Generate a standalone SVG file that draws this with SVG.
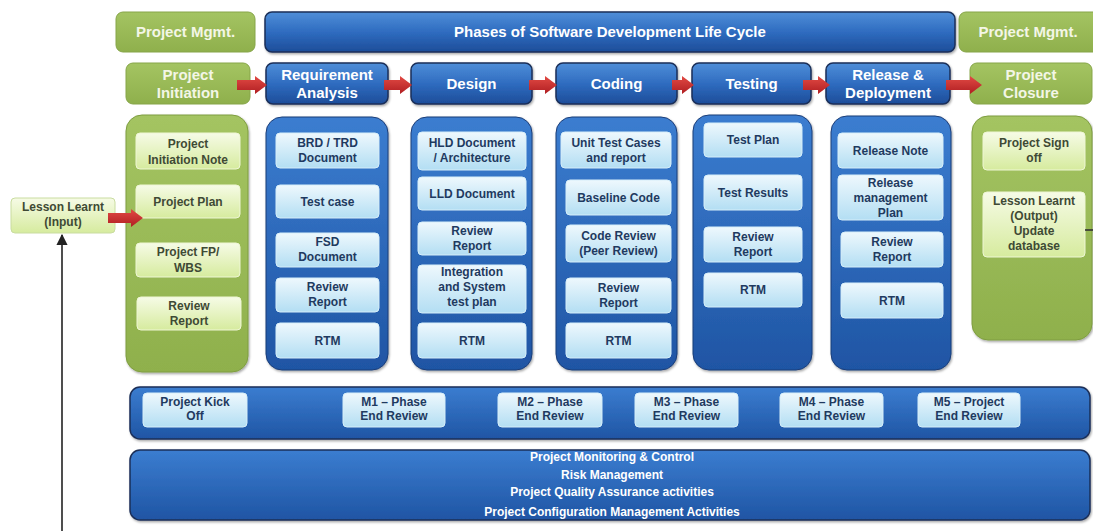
<svg xmlns="http://www.w3.org/2000/svg" width="1093" height="531" viewBox="0 0 1093 531">
<defs>
<linearGradient id="gBlue" x1="0" y1="0" x2="0" y2="1"><stop offset="0" stop-color="#4f8ed8"/><stop offset="0.5" stop-color="#2f6cc0"/><stop offset="1" stop-color="#1d4d99"/></linearGradient>
<linearGradient id="gCol" x1="0" y1="0" x2="0" y2="1"><stop offset="0" stop-color="#3b7dd0"/><stop offset="1" stop-color="#1f55a4"/></linearGradient>
<linearGradient id="gItem" x1="0" y1="0" x2="0" y2="1"><stop offset="0" stop-color="#eef8fd"/><stop offset="1" stop-color="#b3def3"/></linearGradient>
<linearGradient id="gGreen" x1="0" y1="0" x2="0" y2="1"><stop offset="0" stop-color="#a4c462"/><stop offset="1" stop-color="#8fb04c"/></linearGradient>
<linearGradient id="gGItem" x1="0" y1="0" x2="0" y2="1"><stop offset="0" stop-color="#f6fbe6"/><stop offset="1" stop-color="#d6eb9e"/></linearGradient>
<linearGradient id="gRed" x1="0" y1="0" x2="0" y2="1"><stop offset="0" stop-color="#e24a44"/><stop offset="1" stop-color="#b01e22"/></linearGradient>
<filter id="sh" x="-10%" y="-10%" width="120%" height="130%"><feDropShadow dx="1" dy="1.5" stdDeviation="1" flood-color="#000" flood-opacity="0.35"/></filter>
<marker id="ah" viewBox="0 0 10 10" refX="9" refY="5" markerWidth="7" markerHeight="7" orient="auto"><path d="M0,0 L10,5 L0,10 Z" fill="#222"/></marker>
</defs>
<style>
text{font-family:"Liberation Sans",Arial,sans-serif;font-weight:bold;text-anchor:middle}
.hb{fill:url(#gBlue);stroke:#1a2f58;stroke-width:1.5;filter:url(#sh)}
.hg{fill:url(#gGreen);stroke:#86a548;stroke-width:1}
.col{fill:url(#gCol);stroke:#1d3e78;stroke-width:1;filter:url(#sh)}
.colg{fill:url(#gGreen);stroke:#7e9d40;stroke-width:1;filter:url(#sh)}
.it{fill:url(#gItem);stroke:#d6eef9;stroke-width:1}
.ig{fill:url(#gGItem);stroke:#eef6d4;stroke-width:1}
.bar{fill:url(#gCol);stroke:#1a2f58;stroke-width:1.5;filter:url(#sh)}
.th{font-size:15px;fill:#ffffff}
.tg{font-size:15px;fill:#f3f6e6}
.ti{font-size:12px;fill:#1f3a60}
.tgi{font-size:12px;fill:#3f4a35}
.tb{font-size:12px;fill:#ffffff}
.ra{fill:url(#gRed)}
</style>

<g id="pm-left"><rect class="hg" x="116" y="12" width="139" height="40" rx="7"/><text class="tg" x="185.5" y="37">Project Mgmt.</text></g>
<g id="phases"><rect class="hb" x="265" y="12" width="690" height="40" rx="7"/><text class="th" x="610" y="37">Phases of Software Development Life Cycle</text></g>
<g id="pm-right"><rect class="hg" x="959" y="12" width="142" height="40" rx="7"/><text class="tg" x="1028" y="37">Project Mgmt.</text></g>

<g id="h-init"><rect class="hg" x="126" y="63" width="124" height="41" rx="7"/><text class="tg" x="188" y="80">Project</text><text class="tg" x="188" y="98">Initiation</text></g>
<g id="h-req"><rect class="hb" x="266" y="63" width="122" height="41" rx="7"/><text class="th" x="327" y="80">Requirement</text><text class="th" x="327" y="98">Analysis</text></g>
<g id="h-design"><rect class="hb" x="411" y="63" width="121" height="41" rx="7"/><text class="th" x="471.5" y="89">Design</text></g>
<g id="h-coding"><rect class="hb" x="556" y="63" width="121" height="41" rx="7"/><text class="th" x="616.5" y="89">Coding</text></g>
<g id="h-testing"><rect class="hb" x="692" y="63" width="119" height="41" rx="7"/><text class="th" x="751.5" y="89">Testing</text></g>
<g id="h-release"><rect class="hb" x="826" y="63" width="124" height="41" rx="7"/><text class="th" x="888" y="80">Release &amp;</text><text class="th" x="888" y="98">Deployment</text></g>
<g id="h-closure"><rect class="hg" x="970" y="63" width="122" height="41" rx="7"/><text class="tg" x="1031" y="80">Project</text><text class="tg" x="1031" y="98">Closure</text></g>

<g id="c-init">
<rect class="colg" x="126" y="115" width="122" height="257" rx="16"/>
<rect class="ig" x="136" y="133" width="104" height="36" rx="4"/><text class="tgi" x="188" y="148">Project</text><text class="tgi" x="188" y="164">Initiation Note</text>
<rect class="ig" x="136" y="185" width="104" height="33" rx="4"/><text class="tgi" x="188" y="205.5">Project Plan</text>
<rect class="ig" x="136" y="243" width="104" height="34" rx="4"/><text class="tgi" x="188" y="256">Project  FP/</text><text class="tgi" x="188" y="272">WBS</text>
<rect class="ig" x="137" y="297" width="104" height="33" rx="4"/><text class="tgi" x="189" y="310">Review</text><text class="tgi" x="189" y="325">Report</text>
</g>
<g id="c-req">
<rect class="col" x="266" y="117" width="122" height="253" rx="16"/>
<rect class="it" x="276" y="133" width="103" height="35" rx="4"/><text class="ti" x="327.5" y="147">BRD  /  TRD</text><text class="ti" x="327.5" y="162">Document</text>
<rect class="it" x="276" y="185" width="103" height="33" rx="4"/><text class="ti" x="327.5" y="205.5">Test case</text>
<rect class="it" x="276" y="233" width="103" height="34" rx="4"/><text class="ti" x="327.5" y="246">FSD</text><text class="ti" x="327.5" y="261">Document</text>
<rect class="it" x="276" y="278" width="103" height="34" rx="4"/><text class="ti" x="327.5" y="291">Review</text><text class="ti" x="327.5" y="306">Report</text>
<rect class="it" x="276" y="323" width="103" height="35" rx="4"/><text class="ti" x="327.5" y="344.5">RTM</text>
</g>
<g id="c-design">
<rect class="col" x="411" y="117" width="121" height="253" rx="16"/>
<rect class="it" x="418" y="132" width="108" height="38" rx="4"/><text class="ti" x="472" y="147">HLD Document</text><text class="ti" x="472" y="162">/ Architecture</text>
<rect class="it" x="418" y="177" width="108" height="33" rx="4"/><text class="ti" x="472" y="197.5">LLD Document</text>
<rect class="it" x="418" y="222" width="108" height="33" rx="4"/><text class="ti" x="472" y="234.5">Review</text><text class="ti" x="472" y="249.5">Report</text>
<rect class="it" x="418" y="265" width="108" height="48" rx="4"/><text class="ti" x="472" y="276">Integration</text><text class="ti" x="472" y="291">and System</text><text class="ti" x="472" y="306">test plan</text>
<rect class="it" x="418" y="323" width="108" height="35" rx="4"/><text class="ti" x="472" y="344.5">RTM</text>
</g>
<g id="c-coding">
<rect class="col" x="556" y="117" width="121" height="253" rx="16"/>
<rect class="it" x="561" y="132" width="110" height="36" rx="4"/><text class="ti" x="616" y="146.5">Unit Test Cases</text><text class="ti" x="616" y="161.5">and report</text>
<rect class="it" x="566" y="180" width="105" height="35" rx="4"/><text class="ti" x="618.5" y="201.5">Baseline Code</text>
<rect class="it" x="566" y="225" width="105" height="37" rx="4"/><text class="ti" x="618.5" y="240">Code Review</text><text class="ti" x="618.5" y="255">(Peer Review)</text>
<rect class="it" x="566" y="278" width="105" height="35" rx="4"/><text class="ti" x="618.5" y="291.5">Review</text><text class="ti" x="618.5" y="306.5">Report</text>
<rect class="it" x="566" y="323" width="105" height="35" rx="4"/><text class="ti" x="618.5" y="344.5">RTM</text>
</g>
<g id="c-testing">
<rect class="col" x="693" y="115" width="119" height="255" rx="16"/>
<rect class="it" x="704" y="123" width="98" height="34" rx="4"/><text class="ti" x="753" y="144">Test Plan</text>
<rect class="it" x="704" y="175" width="98" height="35" rx="4"/><text class="ti" x="753" y="196.5">Test  Results</text>
<rect class="it" x="704" y="227" width="98" height="35" rx="4"/><text class="ti" x="753" y="241">Review</text><text class="ti" x="753" y="256">Report</text>
<rect class="it" x="704" y="273" width="98" height="34" rx="4"/><text class="ti" x="753" y="294">RTM</text>
</g>
<g id="c-release">
<rect class="col" x="831" y="116" width="120" height="254" rx="16"/>
<rect class="it" x="838" y="133" width="105" height="35" rx="4"/><text class="ti" x="890.5" y="154.5">Release Note</text>
<rect class="it" x="838" y="175" width="105" height="45" rx="4"/><text class="ti" x="890.5" y="186.5">Release</text><text class="ti" x="890.5" y="201.5">management</text><text class="ti" x="890.5" y="216.5">Plan</text>
<rect class="it" x="841" y="232" width="102" height="35" rx="4"/><text class="ti" x="892" y="246">Review</text><text class="ti" x="892" y="261">Report</text>
<rect class="it" x="841" y="283" width="102" height="35" rx="4"/><text class="ti" x="892" y="304.5">RTM</text>
</g>
<g id="c-closure">
<rect class="colg" x="972" y="116" width="120" height="224" rx="16"/>
<rect class="ig" x="983" y="132" width="102" height="38" rx="4"/><text class="tgi" x="1034" y="147">Project Sign</text><text class="tgi" x="1034" y="162">off</text>
<rect class="ig" x="983" y="192" width="102" height="65" rx="4"/><text class="tgi" x="1034" y="205">Lesson Learnt</text><text class="tgi" x="1034" y="220">(Output)</text><text class="tgi" x="1034" y="235">Update</text><text class="tgi" x="1034" y="250">database</text>
</g>

<g id="lesson-input"><rect class="ig" x="11" y="198" width="104" height="35" rx="4" style="stroke:#c9dca0"/><text class="tgi" x="63" y="211">Lesson Learnt</text><text class="tgi" x="63" y="226">(Input)</text></g>

<g id="milestones">
<rect class="bar" x="130" y="387" width="960" height="52" rx="10"/>
<rect class="it" x="143" y="393" width="104" height="34" rx="4"/><text class="ti" x="195" y="406">Project Kick</text><text class="ti" x="195" y="420">Off</text>
<rect class="it" x="343" y="393" width="102" height="34" rx="4"/><text class="ti" x="394" y="406">M1 – Phase</text><text class="ti" x="394" y="420">End Review</text>
<rect class="it" x="498" y="393" width="104" height="34" rx="4"/><text class="ti" x="550" y="406">M2 – Phase</text><text class="ti" x="550" y="420">End Review</text>
<rect class="it" x="635" y="393" width="103" height="34" rx="4"/><text class="ti" x="686.5" y="406">M3 – Phase</text><text class="ti" x="686.5" y="420">End Review</text>
<rect class="it" x="780" y="393" width="103" height="34" rx="4"/><text class="ti" x="831.5" y="406">M4 – Phase</text><text class="ti" x="831.5" y="420">End Review</text>
<rect class="it" x="918" y="393" width="102" height="34" rx="4"/><text class="ti" x="969" y="406">M5 – Project</text><text class="ti" x="969" y="420">End Review</text>
</g>

<g id="management">
<rect class="bar" x="130" y="450" width="960" height="70" rx="10"/>
<text class="tb" x="612" y="461">Project Monitoring &amp; Control</text>
<text class="tb" x="612" y="479">Risk Management</text>
<text class="tb" x="612" y="496">Project Quality Assurance activities</text>
<text class="tb" x="612" y="516">Project Configuration Management Activities</text>
</g>

<g id="connectors">
<path class="ra" d="M237,80 H255 V76 L267,85 L255,94 V90 H237 Z"/>
<path class="ra" d="M384,80 H400 V76 L412,85 L400,94 V90 H384 Z"/>
<path class="ra" d="M529,80 H545 V76 L557,85 L545,94 V90 H529 Z"/>
<path class="ra" d="M672,80 H682 V76 L694,85 L682,94 V90 H672 Z"/>
<path class="ra" d="M803,80 H818 V76 L830,85 L818,94 V90 H803 Z"/>
<path class="ra" d="M946,80 H970 V76 L982,85 L970,94 V90 H946 Z"/>
<path class="ra" d="M108,213 H131 V209 L143,218 L131,227 V223 H108 Z"/>
<line x1="62" y1="531" x2="62" y2="235" stroke="#222" stroke-width="1.6" marker-end="url(#ah)"/>
<line x1="1085" y1="230" x2="1093" y2="230" stroke="#333" stroke-width="1.6"/>
</g>
</svg>
